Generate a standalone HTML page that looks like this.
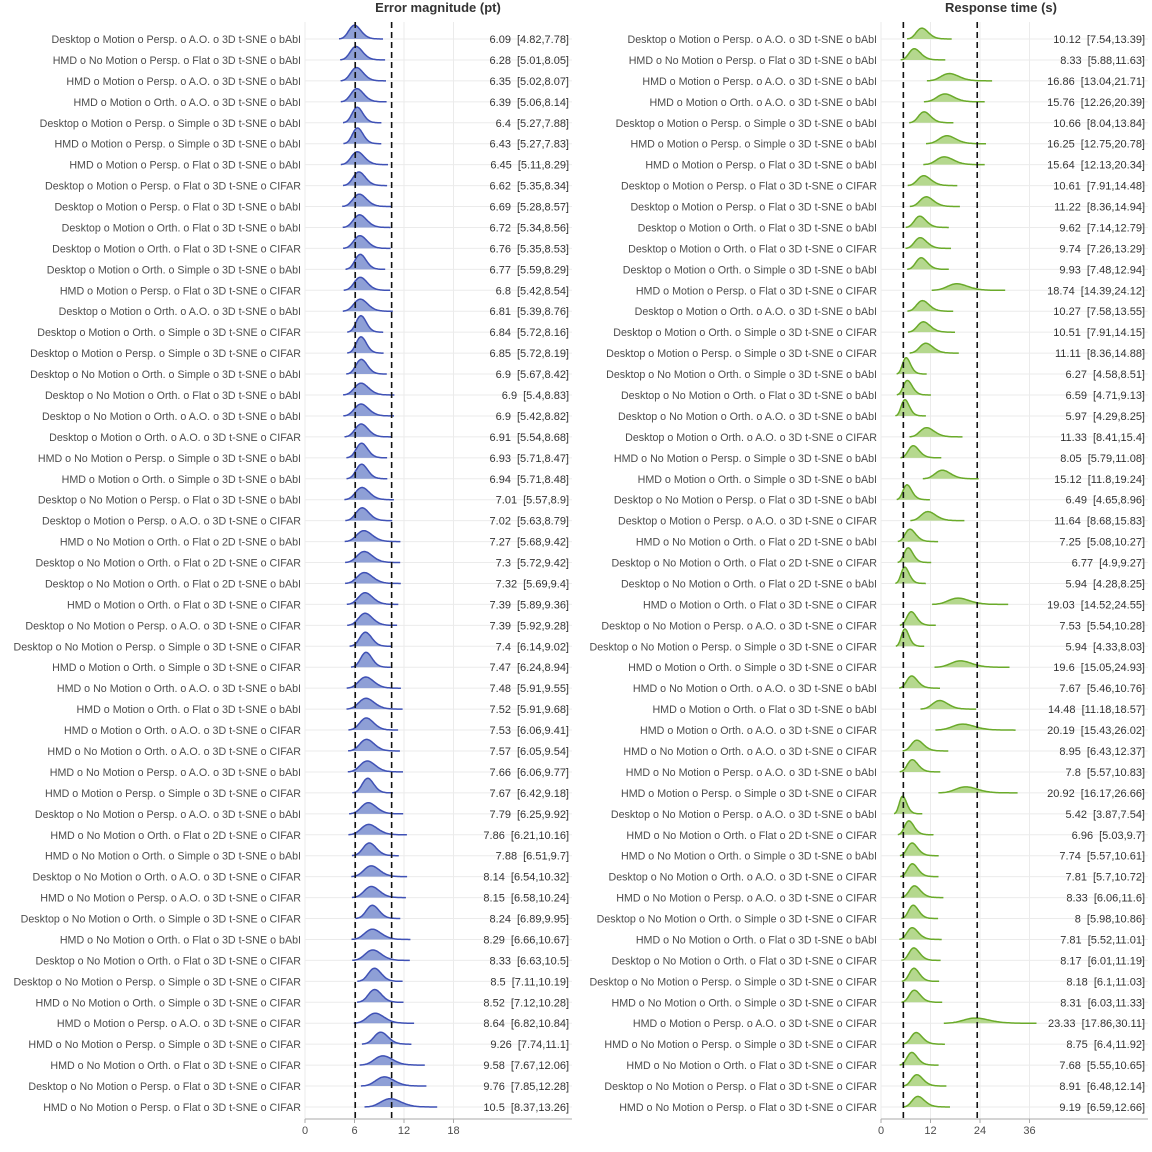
<!DOCTYPE html>
<html><head><meta charset="utf-8">
<style>
html,body{margin:0;padding:0;background:#fff;}
svg{display:block;font-family:"Liberation Sans",Arial,sans-serif;}
</style></head>
<body>
<svg id="chart" width="1152" height="1152" viewBox="0 0 1152 1152" xmlns="http://www.w3.org/2000/svg"></svg>
<script>
const labels = [
"Desktop o Motion o Persp. o A.O. o 3D t-SNE o bAbI",
"HMD o No Motion o Persp. o Flat o 3D t-SNE o bAbI",
"HMD o Motion o Persp. o A.O. o 3D t-SNE o bAbI",
"HMD o Motion o Orth. o A.O. o 3D t-SNE o bAbI",
"Desktop o Motion o Persp. o Simple o 3D t-SNE o bAbI",
"HMD o Motion o Persp. o Simple o 3D t-SNE o bAbI",
"HMD o Motion o Persp. o Flat o 3D t-SNE o bAbI",
"Desktop o Motion o Persp. o Flat o 3D t-SNE o CIFAR",
"Desktop o Motion o Persp. o Flat o 3D t-SNE o bAbI",
"Desktop o Motion o Orth. o Flat o 3D t-SNE o bAbI",
"Desktop o Motion o Orth. o Flat o 3D t-SNE o CIFAR",
"Desktop o Motion o Orth. o Simple o 3D t-SNE o bAbI",
"HMD o Motion o Persp. o Flat o 3D t-SNE o CIFAR",
"Desktop o Motion o Orth. o A.O. o 3D t-SNE o bAbI",
"Desktop o Motion o Orth. o Simple o 3D t-SNE o CIFAR",
"Desktop o Motion o Persp. o Simple o 3D t-SNE o CIFAR",
"Desktop o No Motion o Orth. o Simple o 3D t-SNE o bAbI",
"Desktop o No Motion o Orth. o Flat o 3D t-SNE o bAbI",
"Desktop o No Motion o Orth. o A.O. o 3D t-SNE o bAbI",
"Desktop o Motion o Orth. o A.O. o 3D t-SNE o CIFAR",
"HMD o No Motion o Persp. o Simple o 3D t-SNE o bAbI",
"HMD o Motion o Orth. o Simple o 3D t-SNE o bAbI",
"Desktop o No Motion o Persp. o Flat o 3D t-SNE o bAbI",
"Desktop o Motion o Persp. o A.O. o 3D t-SNE o CIFAR",
"HMD o No Motion o Orth. o Flat o 2D t-SNE o bAbI",
"Desktop o No Motion o Orth. o Flat o 2D t-SNE o CIFAR",
"Desktop o No Motion o Orth. o Flat o 2D t-SNE o bAbI",
"HMD o Motion o Orth. o Flat o 3D t-SNE o CIFAR",
"Desktop o No Motion o Persp. o A.O. o 3D t-SNE o CIFAR",
"Desktop o No Motion o Persp. o Simple o 3D t-SNE o CIFAR",
"HMD o Motion o Orth. o Simple o 3D t-SNE o CIFAR",
"HMD o No Motion o Orth. o A.O. o 3D t-SNE o bAbI",
"HMD o Motion o Orth. o Flat o 3D t-SNE o bAbI",
"HMD o Motion o Orth. o A.O. o 3D t-SNE o CIFAR",
"HMD o No Motion o Orth. o A.O. o 3D t-SNE o CIFAR",
"HMD o No Motion o Persp. o A.O. o 3D t-SNE o bAbI",
"HMD o Motion o Persp. o Simple o 3D t-SNE o CIFAR",
"Desktop o No Motion o Persp. o A.O. o 3D t-SNE o bAbI",
"HMD o No Motion o Orth. o Flat o 2D t-SNE o CIFAR",
"HMD o No Motion o Orth. o Simple o 3D t-SNE o bAbI",
"Desktop o No Motion o Orth. o A.O. o 3D t-SNE o CIFAR",
"HMD o No Motion o Persp. o A.O. o 3D t-SNE o CIFAR",
"Desktop o No Motion o Orth. o Simple o 3D t-SNE o CIFAR",
"HMD o No Motion o Orth. o Flat o 3D t-SNE o bAbI",
"Desktop o No Motion o Orth. o Flat o 3D t-SNE o CIFAR",
"Desktop o No Motion o Persp. o Simple o 3D t-SNE o CIFAR",
"HMD o No Motion o Orth. o Simple o 3D t-SNE o CIFAR",
"HMD o Motion o Persp. o A.O. o 3D t-SNE o CIFAR",
"HMD o No Motion o Persp. o Simple o 3D t-SNE o CIFAR",
"HMD o No Motion o Orth. o Flat o 3D t-SNE o CIFAR",
"Desktop o No Motion o Persp. o Flat o 3D t-SNE o CIFAR",
"HMD o No Motion o Persp. o Flat o 3D t-SNE o CIFAR"
];
const errMean = [6.09,6.28,6.35,6.39,6.4,6.43,6.45,6.62,6.69,6.72,6.76,6.77,6.8,6.81,6.84,6.85,6.9,6.9,6.9,6.91,6.93,6.94,7.01,7.02,7.27,7.3,7.32,7.39,7.39,7.4,7.47,7.48,7.52,7.53,7.57,7.66,7.67,7.79,7.86,7.88,8.14,8.15,8.24,8.29,8.33,8.5,8.52,8.64,9.26,9.58,9.76,10.5];
const errLo = [4.82,5.01,5.02,5.06,5.27,5.27,5.11,5.35,5.28,5.34,5.35,5.59,5.42,5.39,5.72,5.72,5.67,5.4,5.42,5.54,5.71,5.71,5.57,5.63,5.68,5.72,5.69,5.89,5.92,6.14,6.24,5.91,5.91,6.06,6.05,6.06,6.42,6.25,6.21,6.51,6.54,6.58,6.89,6.66,6.63,7.11,7.12,6.82,7.74,7.67,7.85,8.37];
const errHi = [7.78,8.05,8.07,8.14,7.88,7.83,8.29,8.34,8.57,8.56,8.53,8.29,8.54,8.76,8.16,8.19,8.42,8.83,8.82,8.68,8.47,8.48,8.9,8.79,9.42,9.42,9.4,9.36,9.28,9.02,8.94,9.55,9.68,9.41,9.54,9.77,9.18,9.92,10.16,9.7,10.32,10.24,9.95,10.67,10.5,10.19,10.28,10.84,11.1,12.06,12.28,13.26];
const rtMean = [10.12,8.33,16.86,15.76,10.66,16.25,15.64,10.61,11.22,9.62,9.74,9.93,18.74,10.27,10.51,11.11,6.27,6.59,5.97,11.33,8.05,15.12,6.49,11.64,7.25,6.77,5.94,19.03,7.53,5.94,19.6,7.67,14.48,20.19,8.95,7.8,20.92,5.42,6.96,7.74,7.81,8.33,8,7.81,8.17,8.18,8.31,23.33,8.75,7.68,8.91,9.19];
const rtLo = [7.54,5.88,13.04,12.26,8.04,12.75,12.13,7.91,8.36,7.14,7.26,7.48,14.39,7.58,7.91,8.36,4.58,4.71,4.29,8.41,5.79,11.8,4.65,8.68,5.08,4.9,4.28,14.52,5.54,4.33,15.05,5.46,11.18,15.43,6.43,5.57,16.17,3.87,5.03,5.57,5.7,6.06,5.98,5.52,6.01,6.1,6.03,17.86,6.4,5.55,6.48,6.59];
const rtHi = [13.39,11.63,21.71,20.39,13.84,20.78,20.34,14.48,14.94,12.79,13.29,12.94,24.12,13.55,14.15,14.88,8.51,9.13,8.25,15.4,11.08,19.24,8.96,15.83,10.27,9.27,8.25,24.55,10.28,8.03,24.93,10.76,18.57,26.02,12.37,10.83,26.66,7.54,9.7,10.61,10.72,11.6,10.86,11.01,11.19,11.03,11.33,30.11,11.92,10.65,12.14,12.66];
const errTicks = [0,6,12,18];
const rtTicks = [0,12,24,36];

const NS = "http://www.w3.org/2000/svg";
const svg = document.getElementById('chart');
function mk(tag, attrs, parent){
  const e = document.createElementNS(NS, tag);
  for (const k in attrs) e.setAttribute(k, attrs[k]);
  (parent||svg).appendChild(e);
  return e;
}
const rowY = i => 39 + i * (1107 - 39) / 51;

function panel(cfg){
  const g = mk('g', {});
  
  
  const x = v => cfg.x0 + (v - 0) * cfg.k;
  const top = 22, bottom = 1119;
  cfg.ticks.forEach(t => {
    const l = mk('line', {x1:x(t), x2:x(t), y1:top, y2:bottom, stroke:'#ebebeb', 'stroke-width':1}, g);
    
    
  });
  cfg.mean.forEach((m, i) => {
    const l = mk('line', {x1:cfg.x0, x2:cfg.x1, y1:rowY(i), y2:rowY(i), stroke:'#ebebeb', 'stroke-width':1}, g);
    
    
  });
  cfg.mean.forEach((m, i) => {
    const lm = Math.log(m);
    const s = (Math.log(cfg.hi[i]) - Math.log(cfg.lo[i])) / 3.92;
    const a = m * Math.exp(-3.2 * s), b = m * Math.exp(3.6 * s);
    const y0 = rowY(i);
    let pts = [];
    const N = 60;
    for (let j = 0; j <= N; j++) {
      const v = a + (b - a) * j / N;
      const z = (Math.log(v) - lm) / s;
      const dens = Math.exp(-0.5 * z * z) / (v * s * Math.sqrt(2 * Math.PI));
      const h = dens / cfg.k * cfg.K;
      pts.push([x(v), y0 - h]);
    }
    const line = pts.map((p, j) => (j ? 'L' : 'M') + p[0].toFixed(1) + ' ' + p[1].toFixed(1)).join(' ');
    const area = line + ` L${x(b).toFixed(1)} ${y0} L${x(a).toFixed(1)} ${y0} Z`;
    const ar = mk('path', {d:area, fill:cfg.fill, stroke:'none'}, g);
    
    
    const ln = mk('path', {d:line, fill:'none', stroke:cfg.stroke, 'stroke-width':1.5}, g);
    
    
    const lt = mk('text', {x:cfg.labX, y:y0 + 4, 'text-anchor':'end', 'font-size':10.7, fill:'#4d4d4d'}, g);
    lt.textContent = labels[i];
    
    
    const vt = mk('text', {x:cfg.valX, y:y0 + 4, 'text-anchor':'end', 'font-size':11, fill:'#333'}, g);
    
    
    const t1 = mk('tspan', {}, vt);
    t1.textContent = m + ' ';
    const t2 = mk('tspan', {dx:3}, vt);
    t2.textContent = '[' + cfg.lo[i] + ',' + cfg.hi[i] + ']';
  });
  [Math.min(...cfg.mean), Math.max(...cfg.mean)].forEach(v => {
    const l = mk('line', {x1:x(v), x2:x(v), y1:top, y2:bottom, stroke:'#111', 'stroke-width':1.6, 'stroke-dasharray':'6,4'}, g);
    
    
  });
  const ax = mk('line', {x1:cfg.x0, x2:cfg.x1, y1:bottom, y2:bottom, stroke:'#aaa', 'stroke-width':1}, g);
  
  
  cfg.ticks.forEach(t => {
    const tk = mk('line', {x1:x(t), x2:x(t), y1:bottom, y2:bottom + 4, stroke:'#aaa'}, g);
    
    
    const tl = mk('text', {x:x(t), y:bottom + 15, 'text-anchor':'middle', 'font-size':11, fill:'#4d4d4d'}, g);
    tl.textContent = t;
    
    
  });
  const tt = mk('text', {x:cfg.titleX, y:12, 'text-anchor':'middle', 'font-size':13, 'font-weight':'bold', fill:'#333'}, g);
  tt.textContent = cfg.title;
  
  
}

panel({name:'error-magnitude-panel', title:'Error magnitude (pt)', titleX:438, x0:305, x1:572, k:(404-305)/12,
  K:210, ticks:errTicks, mean:errMean, lo:errLo, hi:errHi, labX:301, valX:569, fill:'#8e9fd6', stroke:'#3f51b5'});
panel({name:'response-time-panel', title:'Response time (s)', titleX:1001, x0:881, x1:1148, k:(980-881)/24,
  K:165, ticks:rtTicks, mean:rtMean, lo:rtLo, hi:rtHi, labX:877, valX:1145, fill:'#b5d88e', stroke:'#6aaa2a'});
</script>
</body></html>
